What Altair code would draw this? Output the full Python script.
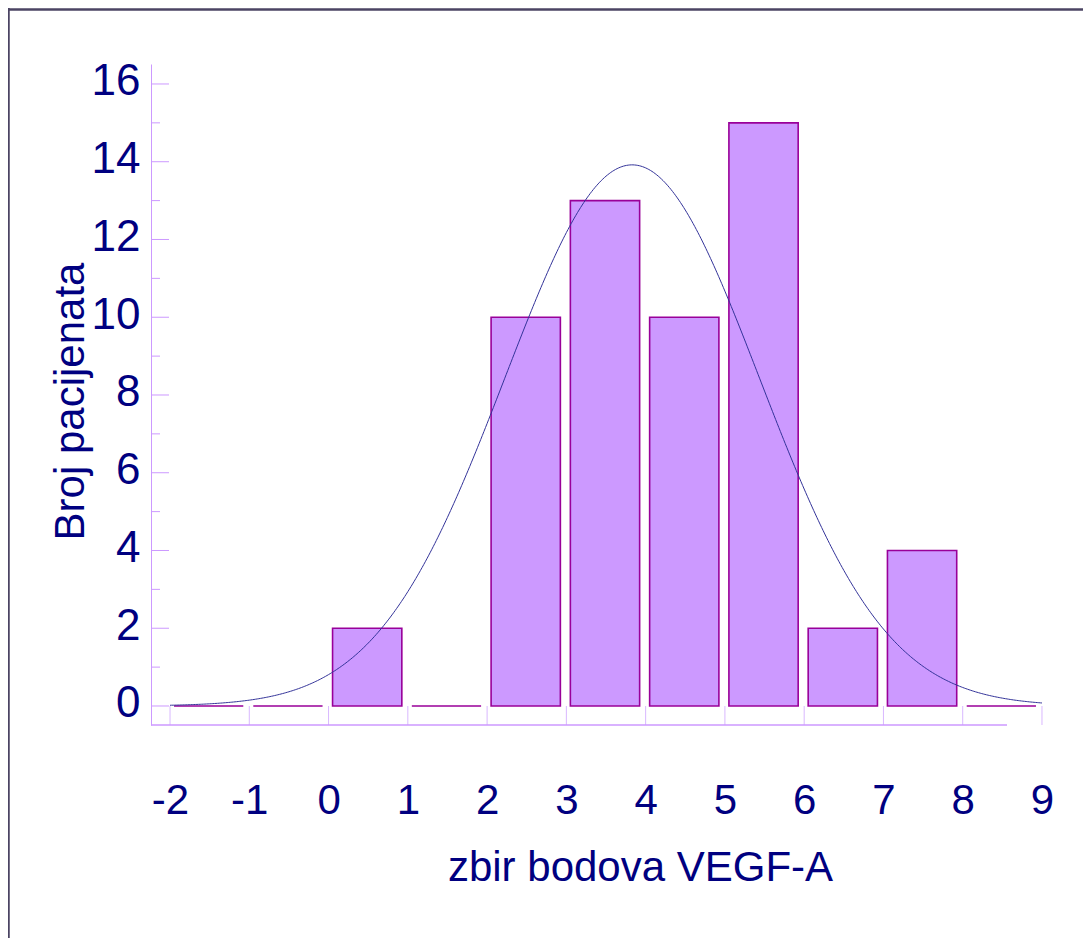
import altair as alt
import pandas as pd

# ---- data ----
bin_start = [-2, -1, 0, 1, 2, 3, 4, 5, 6, 7, 8]
counts = [0, 0, 2, 0, 10, 13, 10, 15, 2, 4, 0]
x_ticks = [-2, -1, 0, 1, 2, 3, 4, 5, 6, 7, 8, 9]
y_major = [0, 2, 4, 6, 8, 10, 12, 14, 16]
y_minor = [1, 3, 5, 7, 9, 11, 13, 15]
fit_mean = 3.83
fit_sd = 1.605
n_total = sum(counts)

FONT = "Liberation Sans"
TXT = "#000080"
W, H = 915, 661
xs = alt.Scale(domain=[-2.24, 9.303], nice=False, zero=False)
ys = alt.Scale(domain=[-0.489, 16.514], nice=False, zero=False)

x_axis = alt.Axis(
    values=x_ticks, labelExpr="'' + datum.value", domain=False, ticks=False, grid=False,
    labelFont=FONT, labelFontSize=42, labelColor=TXT, labelPadding=88,
    labelBaseline="alphabetic", labelFlush=False, labelOverlap=False,
    title="zbir bodova VEGF-A", titleFont=FONT, titleFontSize=42,
    titleFontWeight="normal", titleColor=TXT, titleX=489, titleY=155,
    titleAlign="center", titleBaseline="alphabetic")
y_axis = alt.Axis(
    values=y_major, format="d", domain=True, domainColor="#CC99FF",
    domainWidth=1, ticks=False, grid=False,
    labelFont=FONT, labelFontSize=44, labelColor=TXT, labelPadding=11,
    labelOffset=-2,
    title="Broj pacijenata", titleFont=FONT, titleFontSize=42,
    titleFontWeight="normal", titleColor=TXT, titleX=-68, titleY=337,
    titleAlign="center", titleBaseline="alphabetic")

bars_df = pd.DataFrame({"start": bin_start, "count": counts})
one = pd.DataFrame({"a": [0]})

bars = alt.Chart(bars_df).transform_calculate(
    end="datum.start + 1"
).mark_bar(
    fill="#CC99FF", stroke="#990099", strokeWidth=1.6, xOffset=4, x2Offset=-6
).encode(
    x=alt.X("start:Q", scale=xs, axis=x_axis),
    x2="end:Q",
    y=alt.Y("count:Q", scale=ys, axis=y_axis),
    y2=alt.datum(0),
)

curve = alt.Chart(alt.sequence(-2, 9.001, 0.02, as_="v")).transform_calculate(
    dens=f"{n_total} * densityNormal(datum.v, {fit_mean}, {fit_sd})"
).mark_line(color="#333399", strokeWidth=1).encode(
    x=alt.X("v:Q", scale=xs, axis=x_axis),
    y=alt.Y("dens:Q", scale=ys, axis=y_axis),
)

y_major_rules = alt.Chart(pd.DataFrame({"t": y_major})).mark_rule(
    color="#CC99FF", strokeWidth=1
).encode(y=alt.Y("t:Q", scale=ys, axis=y_axis), x=alt.value(1), x2=alt.value(18))

y_minor_rules = alt.Chart(pd.DataFrame({"t": y_minor})).mark_rule(
    color="#CC99FF", strokeWidth=1
).encode(y=alt.Y("t:Q", scale=ys, axis=y_axis), x=alt.value(1), x2=alt.value(9))

x_tick_rules = alt.Chart(pd.DataFrame({"t": x_ticks})).mark_rule(
    color="#D9B8FF", strokeWidth=1
).encode(x=alt.X("t:Q", scale=xs, axis=x_axis), y=alt.value(H - 19), y2=alt.value(H))

x_domain = alt.Chart(one).mark_rule(color="#CC99FF", strokeWidth=1.5).encode(
    x=alt.value(0), x2=alt.value(856), y=alt.value(H)
)

frame_top = alt.Chart(one).mark_rule(color="#4B4463", strokeWidth=2.5).encode(
    x=alt.value(-145), x2=alt.value(W + 40), y=alt.value(-54.5)
)
frame_left = alt.Chart(one).mark_rule(color="#4B4463", strokeWidth=2.5).encode(
    x=alt.value(-142.5), y=alt.value(-56), y2=alt.value(H + 240)
)

chart = alt.layer(
    bars, frame_top, frame_left, y_major_rules, y_minor_rules, x_tick_rules,
    x_domain, curve
).properties(
    width=W, height=H,
    background="white",
    autosize=alt.AutoSizeParams(type="none"),
    padding={"left": 143, "top": 56, "right": 17, "bottom": 213},
).configure_view(stroke=None)

chart.save("out.html", embed_options={"renderer": "svg", "actions": False})
